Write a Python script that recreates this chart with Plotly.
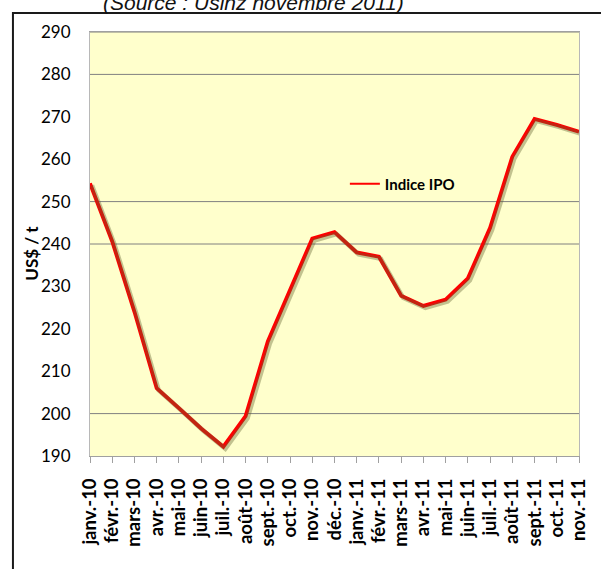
import plotly.graph_objects as go

# Indice IPO, US$ / t (monthly, Jan 2010 - Nov 2011)
mois = ["janv.-10", "févr.-10", "mars-10", "avr.-10", "mai-10", "juin-10",
        "juil.-10", "août-10", "sept.-10", "oct.-10", "nov.-10", "déc.-10",
        "janv.-11", "févr.-11", "mars-11", "avr.-11", "mai-11", "juin-11",
        "juil.-11", "août-11", "sept.-11", "oct.-11", "nov.-11"]
indice_ipo = [254.3, 240.6, 224.0, 206.0, 201.3, 196.5,
              192.2, 199.4, 217.0, 229.0, 241.3, 242.8,
              238.0, 237.0, 227.8, 225.4, 226.9, 231.9,
              243.8, 260.6, 269.5, 268.1, 266.5]
y_ticks = [190, 200, 210, 220, 230, 240, 250, 260, 270, 280, 290]
grid_levels = [290, 280, 250, 240, 200]

W, H = 601, 569
L, R, T, B = 90, 16, 32, 113
pw, ph = W - L - R, H - T - B
px_x = 22 / pw          # category units per pixel
px_y = 100 / ph         # value units per pixel

fig = go.Figure()

# soft shadow under the line (same data, drawn on slightly shifted axes)
fig.add_trace(go.Scatter(
    x=mois, y=indice_ipo, mode="lines",
    line=dict(color="rgba(95,95,45,0.38)", width=4.5),
    xaxis="x2", yaxis="y2", showlegend=False, hoverinfo="skip"
))
fig.add_trace(go.Scatter(
    x=mois, y=indice_ipo, mode="lines", name="Indice IPO",
    line=dict(color="#FF0000", width=3.8), showlegend=False
))
# legend entry only (thinner line like the original key)
fig.add_trace(go.Scatter(
    x=[None], y=[None], mode="lines", name="Indice IPO",
    line=dict(color="#FF0000", width=2)
))

for g in grid_levels:
    fig.add_shape(type="line", xref="paper", yref="y", x0=0, x1=1, y0=g, y1=g,
                  line=dict(color="#808080", width=1), layer="below")

# outer chart frame
fig.add_shape(type="rect", xref="paper", yref="paper",
              x0=(12 - L) / pw, x1=1.2, y0=-0.5, y1=(H - B - 13) / ph,
              line=dict(color="#1a1a1a", width=2))

fig.add_annotation(
    text="<i>(Source : Usinz novembre 2011)</i>", xref="paper", yref="paper",
    x=(255 - L) / pw, y=(H - B - 2) / ph, xanchor="center", yanchor="middle",
    showarrow=False, font=dict(family="Liberation Sans", size=21, color="#111111")
)
fig.add_annotation(
    text="<b>US$ / t</b>", xref="paper", yref="paper", textangle=-90,
    x=(30 - L) / pw, y=(H - B - 253) / ph, xanchor="center", yanchor="middle",
    showarrow=False, font=dict(family="Lato", size=17, color="#000000")
)

fig.update_layout(
    width=W, height=H,
    margin=dict(l=L, r=R, t=T, b=B),
    paper_bgcolor="white",
    plot_bgcolor="#FFFFCC",
    font=dict(family="Lato", color="#000000"),
    showlegend=True,
    legend=dict(x=(348 - L) / pw, y=(H - B - 184) / ph, xanchor="left", yanchor="middle",
                bgcolor="rgba(0,0,0,0)", font=dict(family="Lato", size=15, weight="bold"),
                itemwidth=30, tracegroupgap=0),
    xaxis=dict(
        type="category", categoryorder="array", categoryarray=mois,
        range=[0, 22], tickangle=-90,
        tickmode="array", tickvals=mois, ticktext=mois,
        tickfont=dict(family="Lato", size=18.5, color="#000000", weight="bold"),
        ticks="outside", ticklen=6, tickcolor="#A0A0A0",
        ticklabelstandoff=8,
        showgrid=False, showline=True, linecolor="#A0A0A0", mirror=True,
        zeroline=False
    ),
    yaxis=dict(
        range=[190, 290], tickvals=y_ticks,
        tickfont=dict(family="Lato", size=17, color="#000000"),
        ticks="", ticklabelstandoff=15,
        showgrid=False, showline=True, linecolor="#B8B8B8", mirror=True,
        zeroline=False
    ),
    xaxis2=dict(
        type="category", categoryorder="array", categoryarray=mois,
        range=[0 - 2 * px_x, 22 - 2 * px_x], overlaying="x",
        visible=False
    ),
    yaxis2=dict(
        range=[190 + 2 * px_y, 290 + 2 * px_y], overlaying="y",
        visible=False
    ),
)

# page body has a default 8px margin; drop it so the figure sits at the corner
fig.write_html("out.html", config={"displayModeBar": False},
               post_script="document.body.style.margin='0px';")
